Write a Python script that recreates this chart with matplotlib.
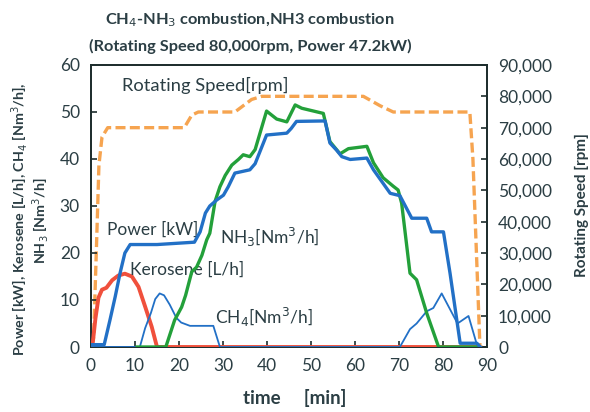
import matplotlib
matplotlib.use("Agg")
import matplotlib.pyplot as plt
from matplotlib.ticker import FuncFormatter
from matplotlib import font_manager

plt.rcParams['font.family'] = ['Lato', 'DejaVu Sans']

names = {f.name for f in font_manager.fontManager.ttflist}
TITLE_FAM = ['Liberation Sans Narrow', 'Lato', 'DejaVu Sans'] if 'Liberation Sans Narrow' in names else ['Lato', 'DejaVu Sans']
TITLE_SIZE = 13.5 if 'Liberation Sans Narrow' in names else 11.8

# ---- data ----
power_t = [0, 3.0, 4.3, 5.5, 6.6, 7.7, 8.9, 15, 23.5, 24.8, 26.0, 27.0, 28.6, 30.1, 31.2, 32.7, 36.1, 37.3,
           39.9, 44.5, 45.5, 46.7, 53.2, 54.3, 55.8, 57.0, 58.9, 62.7, 64.2, 68.0, 70.2, 72.9, 76.3, 77.4,
           80.1, 81.6, 83.9, 87.7, 88.5]
power_v = [0.5, 0.5, 5.7, 10.7, 15.7, 20, 21.8, 21.8, 22.3, 24.5, 28.5, 30, 31.3, 32.3, 34.1, 37, 37.7, 39,
           45.1, 45.5, 46.5, 48, 48.1, 43.4, 41.9, 40.5, 39.9, 40.2, 37.7, 32.7, 32.2, 27.4, 27.4, 24.5,
           24.5, 15.7, 0.8, 0.8, 0]

nh3_t = [10.5, 17.0, 19.0, 20.6, 21.5, 22.9, 24.0, 25.2, 26.3, 27.0, 28.2, 29.3, 30.5, 32.0, 33.5, 34.6,
         36.1, 37.3, 39.9, 42.2, 44.5, 46.4, 47.9, 52.8, 54.3, 56.6, 58.5, 62.7, 64.2, 66.4, 68.7, 69.8,
         70.6, 72.5, 74.0, 76.3, 79.0, 88]
nh3_v = [0, 0, 5.7, 8.5, 11, 16, 17, 19.5, 22.8, 24.2, 31, 34.1, 36.5, 38.7, 39.9, 40.9,
         40.5, 42, 50.2, 48.5, 47.9, 51.5, 50.8, 49.7, 43.7, 41.1, 42.2, 42.7, 39.2, 36, 34.2, 33.4,
         30.6, 15.7, 14.3, 7.2, 0, 0]

kero_t = [0, 0.3, 1.0, 1.7, 2.5, 3.5, 4.8, 6.2, 7.7, 9.3, 10.8, 12.3, 13.8, 15.0, 88]
kero_v = [0, 0, 6, 10.5, 12.2, 12.6, 14.2, 15.2, 15.6, 15, 12.8, 8.6, 4.3, 0, 0]

ch4_t = [0, 11.1, 12.3, 13.6, 14.6, 15.6, 16.6, 17.9, 19.4, 20.5, 22.5, 27.8, 29.3, 70.2, 72.5, 74.0,
         76.3, 77.8, 79.7, 83.3, 85.8, 87.7, 88.5]
ch4_v = [0, 0, 4.0, 7.2, 10.2, 11.4, 11.0, 9.0, 6.2, 5.2, 4.5, 4.5, 0, 0, 3.8, 5.0,
         7.6, 8.3, 11.4, 5.0, 6.6, 0.5, 0]

rpm_t = [0, 0.6, 1.2, 1.8, 2.5, 3.8, 21.2, 22.9, 24.4, 32.7, 36.5, 38.8, 61.9, 65.7, 68.7, 86.1, 86.8, 88.4, 89]
rpm_v = [0, 3000, 30000, 58000, 67000, 70000, 70000, 74000, 75000, 75000, 79000, 80000, 80000, 77000,
         75000, 75000, 60000, 0, 0]

x_ticks = [0, 10, 20, 30, 40, 50, 60, 70, 80, 90]
left_ticks = [0, 10, 20, 30, 40, 50, 60]
right_ticks = [0, 10000, 20000, 30000, 40000, 50000, 60000, 70000, 80000, 90000]

# ---- colours ----
C_BLUE = '#2270C6'
C_GREEN = '#23A03A'
C_RED = '#F0503C'
C_ORANGE = '#F6A450'
C_TEXT = '#2B3E44'
C_SPINE = '#1E2E2E'

fig = plt.figure(figsize=(5.9, 4.12), dpi=100)
ax = fig.add_axes([91/590, 1-347/412, (487-91)/590, (347-65)/412])
ax2 = ax.twinx()

ax2.plot(rpm_t, rpm_v, color=C_ORANGE, lw=2.4, ls=(0, (3.0, 1.3)), zorder=3)

ax.plot(kero_t, kero_v, color=C_RED, lw=2.8, zorder=3, solid_joinstyle='round')
ax.plot(ch4_t, ch4_v, color=C_BLUE, lw=1.3, zorder=4)
ax.plot(nh3_t, nh3_v, color=C_GREEN, lw=2.4, zorder=5, solid_joinstyle='round')
ax.plot(power_t, power_v, color=C_BLUE, lw=2.4, zorder=6, solid_joinstyle='round')

ax.set_zorder(ax2.get_zorder() + 1)
ax.patch.set_visible(False)

ax.set_xlim(0, 90)
ax.set_ylim(0, 60)
ax2.set_ylim(0, 90000)
ax.set_xticks(x_ticks)
ax.set_yticks(left_ticks)
ax2.set_yticks(right_ticks)
ax2.yaxis.set_major_formatter(FuncFormatter(lambda v, p: f"{int(v):,}"))

tick_font = 12.5
for a in (ax, ax2):
    a.tick_params(direction='in', length=4, width=1.2, colors=C_SPINE, labelcolor=C_TEXT,
                  labelsize=tick_font)
    for s in a.spines.values():
        s.set_color(C_SPINE)
        s.set_linewidth(1.3)
ax.tick_params(axis='x', pad=8)
ax.tick_params(axis='y', pad=8)
ax2.tick_params(axis='y', pad=8)

# annotations
ann = dict(color=C_TEXT, fontsize=12.5, va='center', ha='left')
ax.text(7.0, 55.7, 'Rotating Speed[rpm]', **dict(ann, fontsize=13.2))
ax.text(3.6, 24.9, 'Power [kW]', **ann)
ax.text(29.3, 23.4, 'NH$_3$[Nm$^3$/h]', **ann)
ax.text(8.9, 16.4, 'Kerosene [L/h]', **ann)
ax.text(28.2, 6.2, 'CH$_4$[Nm$^3$/h]', **ann)

# titles and labels
fig.text(250/590, 1-20/412, 'CH$_4$-NH$_3$ combustion,NH3 combustion', ha='center', va='center',
         fontsize=TITLE_SIZE, fontweight='bold', color=C_TEXT, family=TITLE_FAM)
fig.text(250/590, 1-46/412, '(Rotating Speed 80,000rpm, Power 47.2kW)', ha='center', va='center',
         fontsize=TITLE_SIZE, fontweight='bold', color=C_TEXT, family=TITLE_FAM)

fig.text(295/590, 1-398/412, 'time\u3000 [min]', ha='center', va='center', fontsize=13.5,
         fontweight='bold', color=C_TEXT, family=['Lato', 'Noto Sans CJK JP', 'DejaVu Sans'])

fig.text(20/590, 1-219/412, 'Power [kW], Kerosene [L/h], CH$_4$ [Nm$^3$/h],', rotation=90,
         ha='center', va='center', fontsize=10.3, fontweight='bold', color=C_TEXT)
fig.text(41/590, 1-221/412, 'NH$_3$ [Nm$^3$/h]', rotation=90,
         ha='center', va='center', fontsize=10.3, fontweight='bold', color=C_TEXT)
fig.text(582/590, 1-205/412, 'Rotating Speed [rpm]', rotation=90, ha='center', va='center',
         fontsize=11, fontweight='bold', color=C_TEXT)

fig.savefig('out.png', dpi=100)
